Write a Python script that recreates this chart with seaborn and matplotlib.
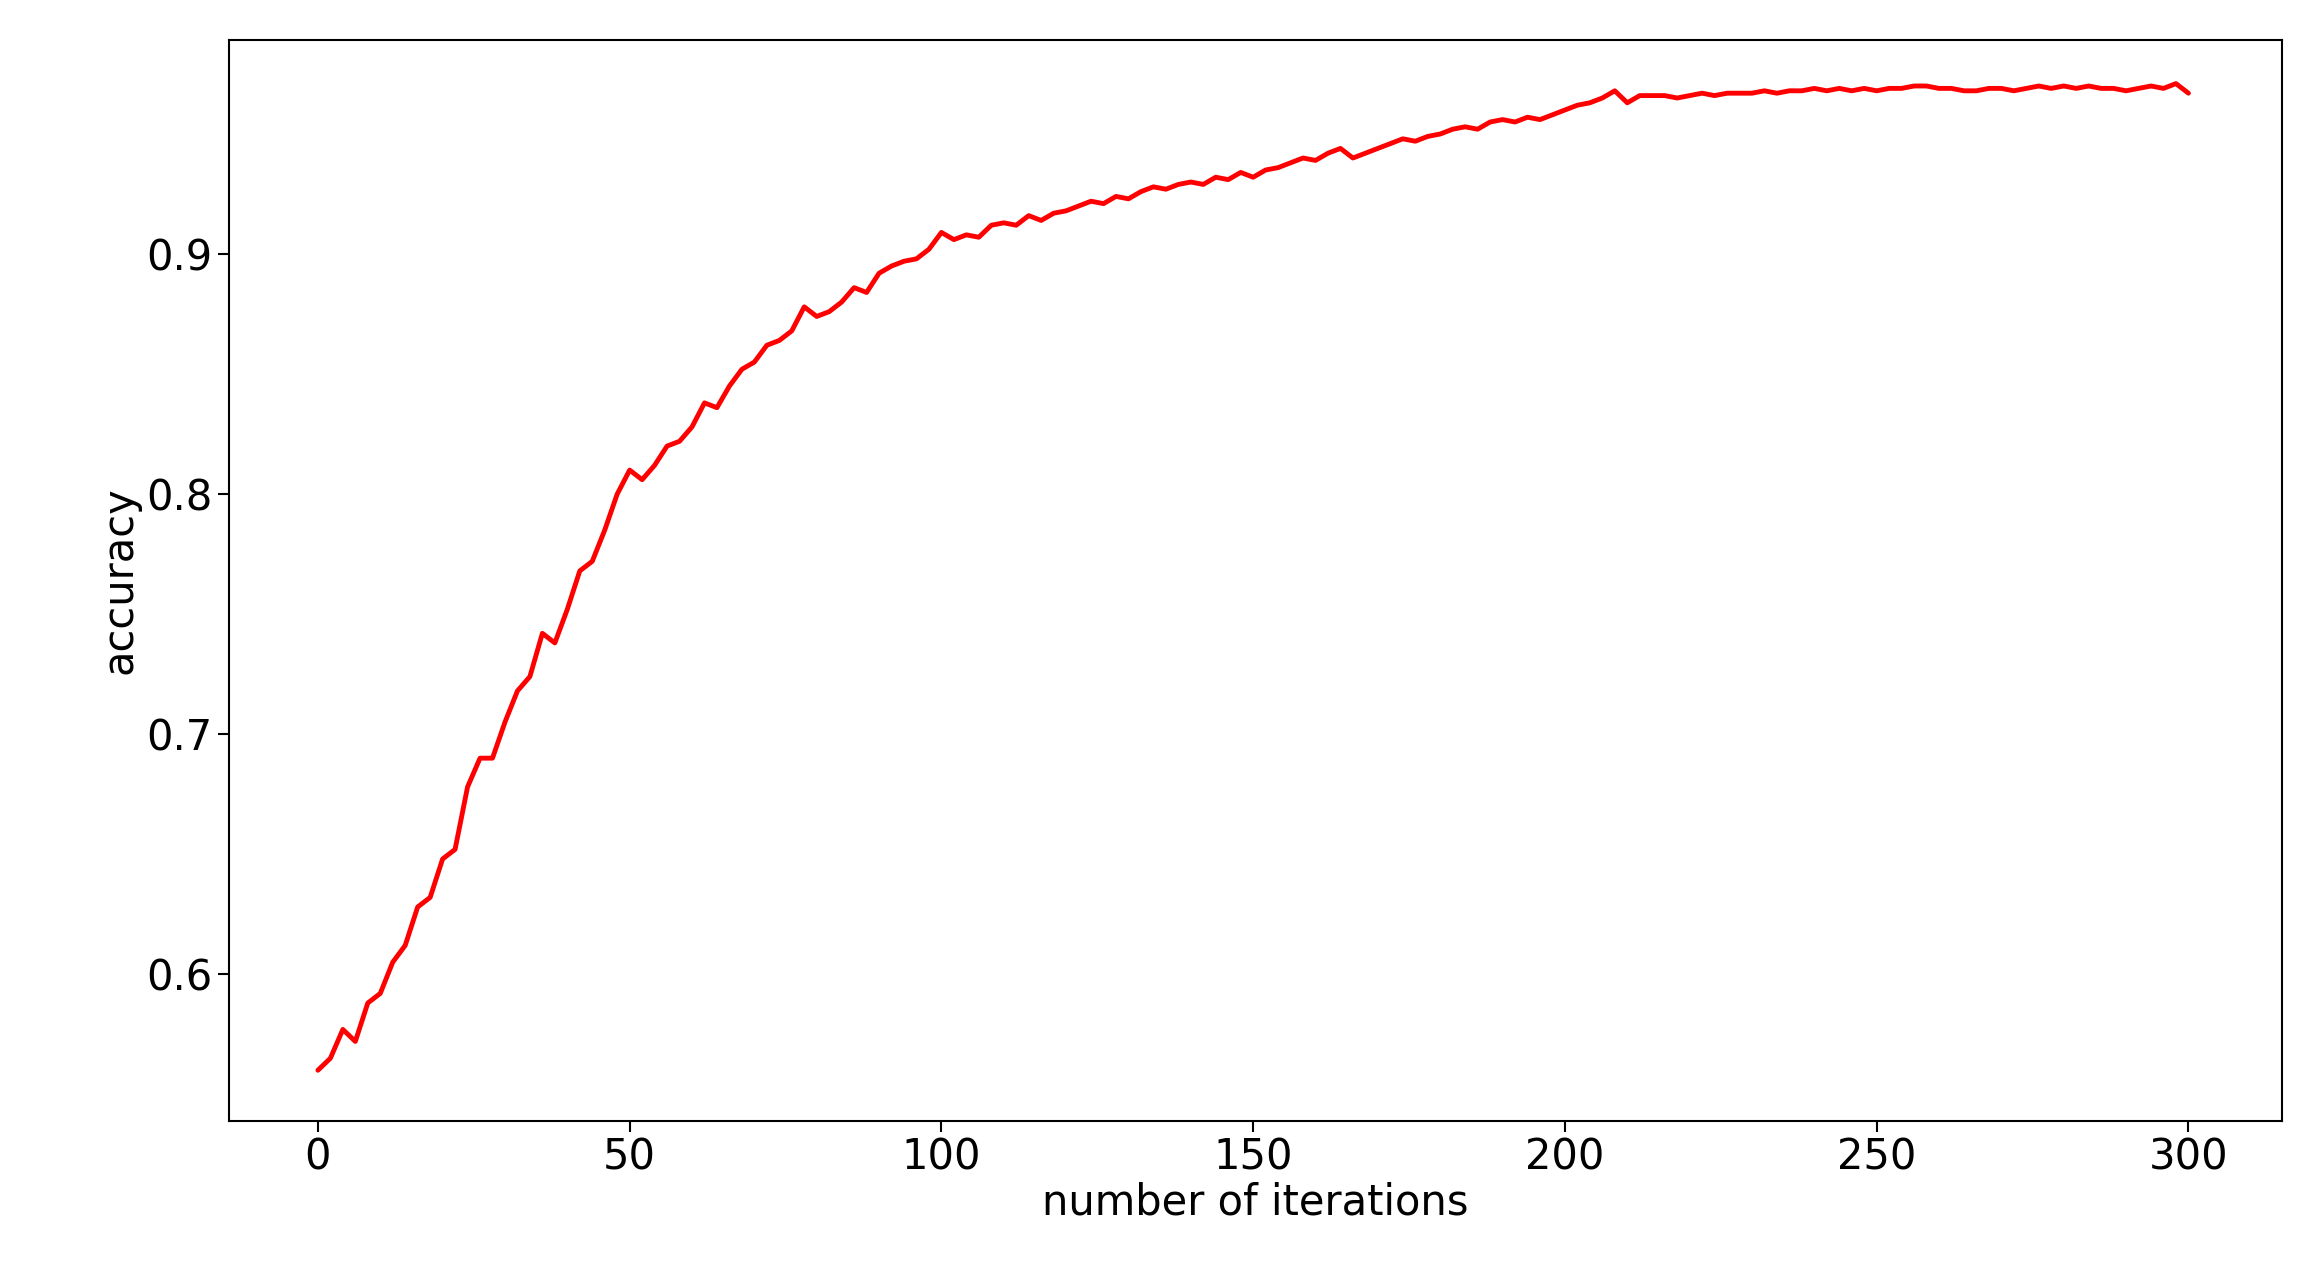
import matplotlib
matplotlib.use('Agg')
import matplotlib.pyplot as plt
import seaborn as sns

# accuracy, every 2 iterations
iterations = list(range(0, 301, 2))
accuracy = [
    0.560, 0.565, 0.577, 0.572, 0.588, 0.592, 0.605, 0.612, 0.628, 0.632,
    0.648, 0.652, 0.678, 0.690, 0.690, 0.705, 0.718, 0.724, 0.742, 0.738,
    0.752, 0.768, 0.772, 0.785, 0.800, 0.810, 0.806, 0.812, 0.820, 0.822,
    0.828, 0.838, 0.836, 0.845, 0.852, 0.855, 0.862, 0.864, 0.868, 0.878,
    0.874, 0.876, 0.880, 0.886, 0.884, 0.892, 0.895, 0.897, 0.898, 0.902,
    0.909, 0.906, 0.908, 0.907, 0.912, 0.913, 0.912, 0.916, 0.914, 0.917,
    0.918, 0.920, 0.922, 0.921, 0.924, 0.923, 0.926, 0.928, 0.927, 0.929,
    0.930, 0.929, 0.932, 0.931, 0.934, 0.932, 0.935, 0.936, 0.938, 0.940,
    0.939, 0.942, 0.944, 0.940, 0.942, 0.944, 0.946, 0.948, 0.947, 0.949,
    0.950, 0.952, 0.953, 0.952, 0.955, 0.956, 0.955, 0.957, 0.956, 0.958,
    0.960, 0.962, 0.963, 0.965, 0.968, 0.963, 0.966, 0.966, 0.966, 0.965,
    0.966, 0.967, 0.966, 0.967, 0.967, 0.967, 0.968, 0.967, 0.968, 0.968,
    0.969, 0.968, 0.969, 0.968, 0.969, 0.968, 0.969, 0.969, 0.970, 0.970,
    0.969, 0.969, 0.968, 0.968, 0.969, 0.969, 0.968, 0.969, 0.970, 0.969,
    0.970, 0.969, 0.970, 0.969, 0.969, 0.968, 0.969, 0.970, 0.969, 0.971,
    0.967,
]

sns.set_style('white')
plt.rcParams['font.family'] = ['DejaVu Sans']

fig = plt.figure(figsize=(23.2, 12.62), dpi=100)
ax = fig.add_axes([0.0986, 0.112, 0.885, 0.856])
sns.lineplot(x=iterations, y=accuracy, color='red', linewidth=3.5, ax=ax)
ax.set_xlim(-14.3, 315)
ax.set_ylim(0.539, 0.989)
ax.set_xticks([0, 50, 100, 150, 200, 250, 300])
ax.set_yticks([0.6, 0.7, 0.8, 0.9])
ax.tick_params(labelsize=30, length=8, width=1.5, left=True, bottom=True,
               colors='black')
for s in ax.spines.values():
    s.set_color('black')
    s.set_linewidth(1.5)
ax.set_xlabel('number of iterations', fontsize=30, labelpad=2, color='black')
ax.set_ylabel('accuracy', fontsize=30, color='black',
              family=['Liberation Sans Narrow', 'DejaVu Sans'])
fig.savefig('out.png', dpi=100)
